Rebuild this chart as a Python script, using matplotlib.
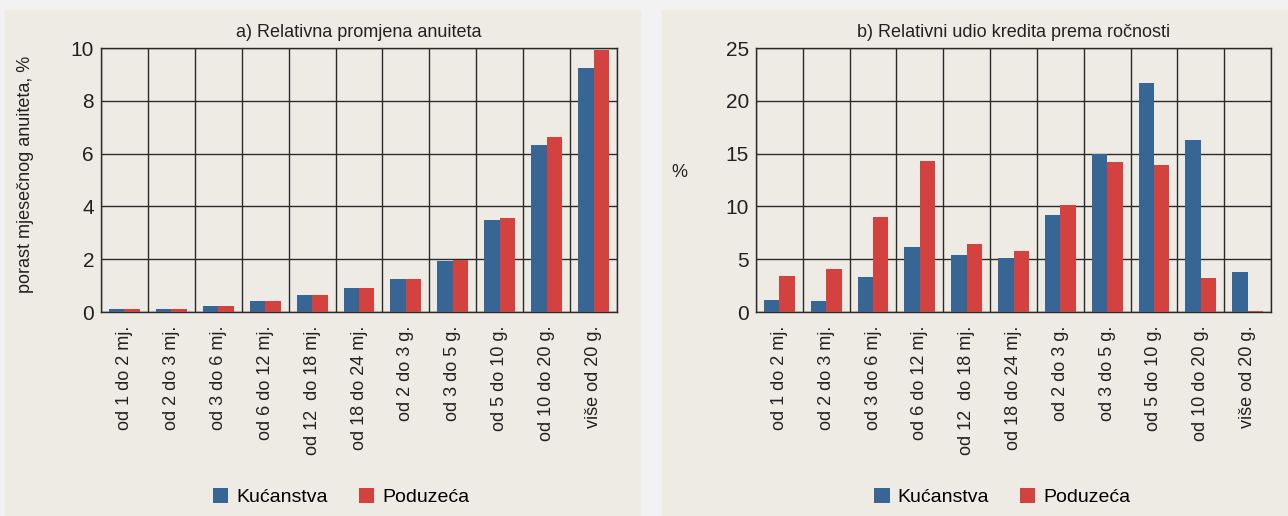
import numpy as np
import matplotlib
matplotlib.use("Agg")
import matplotlib.pyplot as plt
from matplotlib.patches import Rectangle
from matplotlib import font_manager

names = {f.name for f in font_manager.fontManager.ttflist}
fams = [f for f in ["Liberation Sans Narrow", "Liberation Sans", "DejaVu Sans"] if f in names]
plt.rcParams["font.family"] = fams

categories = ["od 1 do 2 mj.", "od 2 do 3 mj.", "od 3 do 6 mj.", "od 6 do 12 mj.",
              "od 12  do 18 mj.", "od 18 do 24 mj.", "od 2 do 3 g.", "od 3 do 5 g.",
              "od 5 do 10 g.", "od 10 do 20 g.", "više od 20 g."]

# a) relative change of annuity, %
anuitet_kucanstva = [0.10, 0.13, 0.24, 0.40, 0.66, 0.90, 1.25, 1.94, 3.50, 6.34, 9.24]
anuitet_poduzeca  = [0.10, 0.13, 0.24, 0.40, 0.66, 0.90, 1.25, 1.98, 3.56, 6.62, 9.94]

# b) relative share of loans by maturity, %
udio_kucanstva = [1.1, 1.0, 3.3, 6.2, 5.4, 5.15, 9.2, 14.95, 21.7, 16.3, 3.8]
udio_poduzeca  = [3.4, 4.1, 9.0, 14.3, 6.4, 5.8, 10.1, 14.2, 13.9, 3.2, 0.06]

series_names = ["Kućanstva", "Poduzeća"]

BLUE = "#376694"
RED = "#D4423F"
PANEL = "#EEEBE4"
OUTER = "#F2F2F2"
GRID = "#2a2a2a"
TXT = "#222222"

fig = plt.figure(figsize=(12.88, 5.16), dpi=100, facecolor=OUTER)
fig.patches.append(Rectangle((5 / 1288, 0), (640 - 5) / 1288, 506 / 516,
                             transform=fig.transFigure, color=PANEL, zorder=-10))
fig.patches.append(Rectangle((662 / 1288, 0), (1288 - 662) / 1288, 506 / 516,
                             transform=fig.transFigure, color=PANEL, zorder=-10))

ax_a = fig.add_axes([101 / 1288, 1 - 312 / 516, 516 / 1288, 264 / 516])
ax_b = fig.add_axes([756 / 1288, 1 - 312 / 516, 515 / 1288, 264 / 516])

x = np.arange(len(categories))
w = 0.33


def draw(ax, s1, s2, ymax, ystep, title, ylabel, ylabel_rot, ylabel_xy, legend_x):
    ax.set_facecolor(PANEL)
    ax.bar(x - w / 2, s1, w, color=BLUE, label=series_names[0], zorder=3)
    ax.bar(x + w / 2, s2, w, color=RED, label=series_names[1], zorder=3)
    ax.set_xlim(-0.5, len(categories) - 0.5)
    ax.set_ylim(0, ymax)
    ax.set_yticks(np.arange(0, ymax + 0.01, ystep))
    ax.set_xticks(x)
    ax.set_xticklabels(categories, rotation=90, fontsize=13)
    ax.set_xticks(np.arange(-0.5, len(categories), 1), minor=True)
    ax.tick_params(axis="both", which="both", length=0, colors=TXT)
    ax.tick_params(axis="y", labelsize=15, pad=5)
    ax.tick_params(axis="x", pad=10)
    ax.grid(which="minor", axis="x", color=GRID, lw=1.0, zorder=1)
    ax.grid(which="major", axis="y", color=GRID, lw=1.0, zorder=1)
    for sp in ax.spines.values():
        sp.set_color(GRID)
        sp.set_linewidth(1.0)
    ax.set_title(title, fontsize=13, pad=8, color=TXT)
    ax.set_ylabel(ylabel, fontsize=13, rotation=90 if ylabel_rot else 0, color=TXT,
                  va="center", ha="center")
    ax.yaxis.set_label_coords(*ylabel_xy)
    ax.legend(loc="center", bbox_to_anchor=(legend_x, -0.70), ncol=2, frameon=False,
              fontsize=14, handlelength=0.8, handleheight=0.8, handletextpad=0.4,
              columnspacing=1.6)


draw(ax_a, anuitet_kucanstva, anuitet_poduzeca, 10, 2,
     "a) Relativna promjena anuiteta", "porast mjesečnog anuiteta, %", True,
     (-0.147, 0.52), 0.465)
draw(ax_b, udio_kucanstva, udio_poduzeca, 25, 5,
     "b) Relativni udio kredita prema ročnosti", "%", False,
     (-0.148, 0.53), 0.478)

fig.savefig("out.png", dpi=100, facecolor=OUTER)
